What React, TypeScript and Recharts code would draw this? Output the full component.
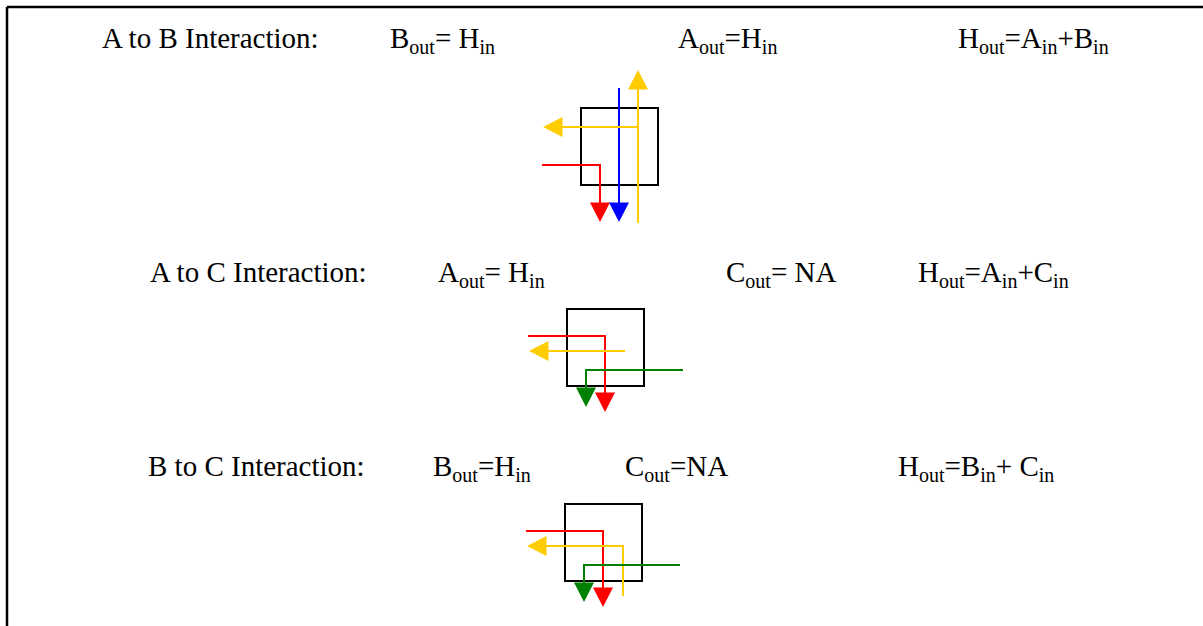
import React from 'react';
import { ComposedChart, Line, Scatter, XAxis, YAxis, ReferenceArea } from 'recharts';

const W = 1203;
const H = 626;

const RED = '#FF0000';
const BLUE = '#0000FF';
const YELLOW = '#FFCC00';
const GREEN = '#008000';
const BLACK = '#000000';

type Pt = { x: number; y: number };

// Frame lines
const frameTop: Pt[] = [{ x: 7, y: 7 }, { x: 1203, y: 7 }];
const frameLeft: Pt[] = [{ x: 7, y: 7 }, { x: 7, y: 626 }];

// Boxes (one per interaction)
const boxes = [
  { x1: 581, x2: 658, y1: 108, y2: 185 },
  { x1: 567, x2: 644, y1: 309, y2: 386 },
  { x1: 565, x2: 642, y1: 504, y2: 581 },
];

// Panel 1 wires (A to B)
const p1Blue: Pt[] = [{ x: 619, y: 88 }, { x: 619, y: 204 }];
const p1Red: Pt[] = [{ x: 542, y: 165 }, { x: 600, y: 165 }, { x: 600, y: 204 }];
const p1YellowV: Pt[] = [{ x: 638, y: 223 }, { x: 638, y: 89 }];
const p1YellowH: Pt[] = [{ x: 638, y: 127 }, { x: 562, y: 127 }];

// Panel 2 wires (A to C)
const p2Red: Pt[] = [{ x: 528, y: 336 }, { x: 605, y: 336 }, { x: 605, y: 393 }];
const p2Yellow: Pt[] = [{ x: 625, y: 351 }, { x: 548, y: 351 }];
const p2Green: Pt[] = [{ x: 683, y: 370 }, { x: 586, y: 370 }, { x: 586, y: 388 }];

// Panel 3 wires (B to C)
const p3Red: Pt[] = [{ x: 526, y: 531 }, { x: 603, y: 531 }, { x: 603, y: 589 }];
const p3Yellow: Pt[] = [{ x: 623, y: 596 }, { x: 623, y: 546 }, { x: 546, y: 546 }];
const p3Green: Pt[] = [{ x: 680, y: 565 }, { x: 584, y: 565 }, { x: 584, y: 584 }];

const wires: { pts: Pt[]; color: string }[] = [
  { pts: p1Blue, color: BLUE },
  { pts: p1Red, color: RED },
  { pts: p1YellowV, color: YELLOW },
  { pts: p1YellowH, color: YELLOW },
  { pts: p2Red, color: RED },
  { pts: p2Yellow, color: YELLOW },
  { pts: p2Green, color: GREEN },
  { pts: p3Red, color: RED },
  { pts: p3Yellow, color: YELLOW },
  { pts: p3Green, color: GREEN },
];

// Arrow heads: tip position and direction
const arrowHeads = [
  { x: 600, y: 222, dir: 'down', color: RED },
  { x: 619, y: 222, dir: 'down', color: BLUE },
  { x: 638, y: 70, dir: 'up', color: YELLOW },
  { x: 543, y: 127, dir: 'left', color: YELLOW },
  { x: 605, y: 412, dir: 'down', color: RED },
  { x: 529, y: 351, dir: 'left', color: YELLOW },
  { x: 586, y: 407, dir: 'down', color: GREEN },
  { x: 603, y: 607, dir: 'down', color: RED },
  { x: 527, y: 546, dir: 'left', color: YELLOW },
  { x: 584, y: 602, dir: 'down', color: GREEN },
];

// Text labels: segments [text, isSubscript]
type Seg = [string, boolean];
type Label = { x: number; y: number; segs: Seg[] };
const row1Labels: Label[] = [
  { x: 102, y: 48, segs: [['A to B Interaction:', false]] },
  { x: 390, y: 48, segs: [['B', false], ['out', true], ['= H', false], ['in', true]] },
  { x: 678, y: 48, segs: [['A', false], ['out', true], ['=H', false], ['in', true]] },
  { x: 958, y: 48, segs: [['H', false], ['out', true], ['=A', false], ['in', true], ['+B', false], ['in', true]] },
];
const row2Labels: Label[] = [
  { x: 150, y: 282, segs: [['A to C Interaction:', false]] },
  { x: 438, y: 282, segs: [['A', false], ['out', true], ['= H', false], ['in', true]] },
  { x: 726, y: 282, segs: [['C', false], ['out', true], ['= NA', false]] },
  { x: 918, y: 282, segs: [['H', false], ['out', true], ['=A', false], ['in', true], ['+C', false], ['in', true]] },
];
const row3Labels: Label[] = [
  { x: 148, y: 476, segs: [['B to C Interaction:', false]] },
  { x: 433, y: 476, segs: [['B', false], ['out', true], ['=H', false], ['in', true]] },
  { x: 625, y: 476, segs: [['C', false], ['out', true], ['=NA', false]] },
  { x: 898, y: 476, segs: [['H', false], ['out', true], ['=B', false], ['in', true], ['+ C', false], ['in', true]] },
];
const allLabels: Label[] = [...row1Labels, ...row2Labels, ...row3Labels];

const FONT = '"Liberation Serif", "Times New Roman", serif';
const FS = 29;
const SUB_FS = 20;
const SUB_DY = 6;

const ArrowShape = (props: any) => {
  const { cx, cy, payload } = props;
  const hw = 10;
  const len = 19.5;
  let pts = '';
  if (payload.dir === 'down') pts = `${cx - hw},${cy - len} ${cx + hw},${cy - len} ${cx},${cy}`;
  else if (payload.dir === 'up') pts = `${cx - hw},${cy + len} ${cx + hw},${cy + len} ${cx},${cy}`;
  else pts = `${cx + len},${cy - hw} ${cx + len},${cy + hw} ${cx},${cy}`;
  return <polygon points={pts} fill={payload.color} stroke="none" />;
};

const LabelShape = (props: any) => {
  const { cx, cy, payload } = props;
  let cur = 0;
  const spans = (payload.segs as Seg[]).map(([t, sub], i) => {
    const target = sub ? SUB_DY : 0;
    const dy = target - cur;
    cur = target;
    return (
      <tspan key={i} dy={dy} fontSize={sub ? SUB_FS : FS}>
        {t}
      </tspan>
    );
  });
  return (
    <text x={cx} y={cy} fontFamily={FONT} fontSize={FS} fill="#000" style={{ whiteSpace: 'pre' }}>
      {spans}
    </text>
  );
};

export default function App() {
  return (
    <div style={{ position: 'absolute', left: 0, top: 0, width: W, height: H, background: '#fff' }}>
      <ComposedChart width={W} height={H} margin={{ top: 0, right: 0, bottom: 0, left: 0 }}>
        <XAxis type="number" dataKey="x" domain={[0, W]} hide allowDataOverflow />
        <YAxis type="number" dataKey="y" domain={[0, H]} reversed hide allowDataOverflow />
        {boxes.map((b, i) => (
          <ReferenceArea
            key={`box${i}`}
            x1={b.x1}
            x2={b.x2}
            y1={b.y1}
            y2={b.y2}
            fill="none"
            fillOpacity={0}
            stroke={BLACK}
            strokeWidth={2}
            ifOverflow="visible"
          />
        ))}
        <Line data={frameTop} dataKey="y" stroke={BLACK} strokeWidth={2.5} dot={false} activeDot={false} isAnimationActive={false} />
        <Line data={frameLeft} dataKey="y" stroke={BLACK} strokeWidth={2.5} dot={false} activeDot={false} isAnimationActive={false} />
        {wires.map((w, i) => (
          <Line
            key={`wire${i}`}
            data={w.pts}
            dataKey="y"
            type="linear"
            stroke={w.color}
            strokeWidth={2}
            dot={false}
            activeDot={false}
            isAnimationActive={false}
          />
        ))}
        <Scatter data={arrowHeads} dataKey="y" shape={ArrowShape} isAnimationActive={false} />
        <Scatter data={allLabels} dataKey="y" shape={LabelShape} isAnimationActive={false} />
      </ComposedChart>
    </div>
  );
}
